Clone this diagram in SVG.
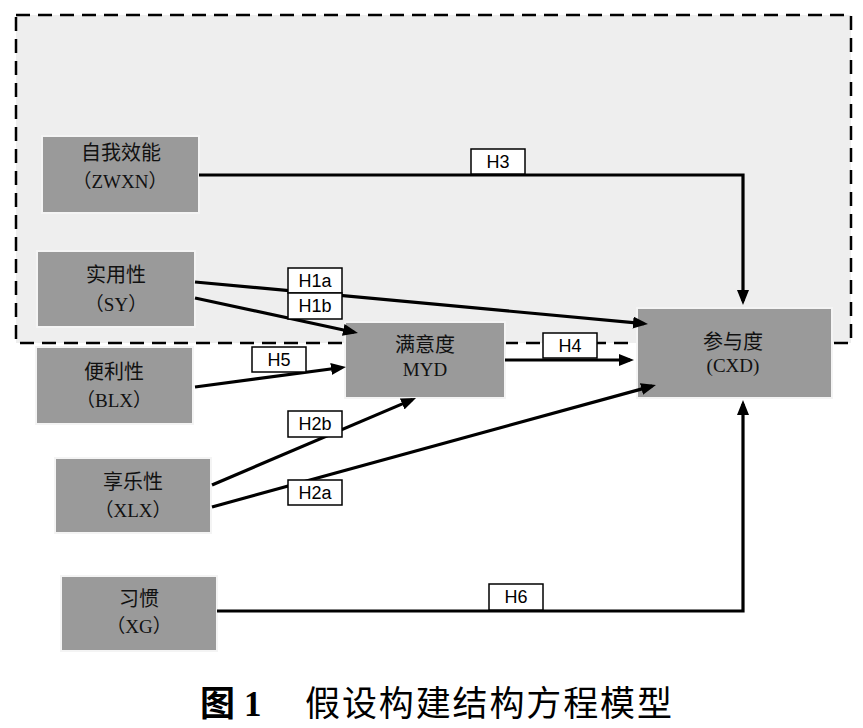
<svg xmlns="http://www.w3.org/2000/svg" width="863" height="728" viewBox="0 0 863 728">
<style>
.node rect{fill:#9a9a9a;stroke:#f4f4f4;stroke-width:2}
.cn{font-family:"Noto Sans CJK SC","Noto Sans",sans-serif;font-size:20px;fill:#111;text-anchor:middle}
.en{font-family:"Liberation Serif","Noto Sans CJK SC",serif;font-size:19px;fill:#111;text-anchor:middle}
.conn line,.conn path{stroke:#000;stroke-width:3.2;fill:none;marker-end:url(#ah)}
.lab rect{fill:#fff;stroke:#000;stroke-width:1.5}
.lab text{font-family:"Liberation Sans Narrow","Liberation Sans",Arial,sans-serif;font-size:18px;fill:#000;text-anchor:middle}
</style>
<defs>
<marker id="ah" markerUnits="userSpaceOnUse" markerWidth="15" markerHeight="12" refX="11" refY="6" orient="auto">
<path d="M0,0 L15,6 L0,12 z" fill="#000"/>
</marker>
</defs>
<rect width="863" height="728" fill="#fff"/>
<rect id="frame" x="16" y="15" width="835" height="328" fill="#eeeeee" stroke="#000" stroke-width="2.5" stroke-dasharray="14,8"/>
<g id="ZWXN" class="node"><rect x="42" y="136" width="157" height="77"/><text class="cn" x="121" y="160">自我效能</text><text class="en" x="120" y="188">（ZWXN）</text></g>
<g id="SY" class="node"><rect x="37" y="251" width="158" height="76"/><text class="cn" x="116" y="282">实用性</text><text class="en" x="116" y="311">（SY）</text></g>
<g id="BLX" class="node"><rect x="36" y="347" width="157" height="77"/><text class="cn" x="114" y="379">便利性</text><text class="en" x="114" y="407">（BLX）</text></g>
<g id="XLX" class="node"><rect x="55" y="458" width="156" height="75"/><text class="cn" x="133" y="489">享乐性</text><text class="en" x="133" y="517">（XLX）</text></g>
<g id="XG" class="node"><rect x="61" y="576" width="156" height="75"/><text class="cn" x="139" y="606">习惯</text><text class="en" x="139" y="633">（XG）</text></g>
<g id="MYD" class="node"><rect x="345" y="322" width="160" height="76"/><text class="cn" x="425" y="352">满意度</text><text class="en" x="425" y="376">MYD</text></g>
<g id="CXD" class="node"><rect x="637" y="308" width="195" height="90"/><text class="cn" x="733" y="349">参与度</text><text class="en" x="733" y="372">(CXD)</text></g>
<g id="connectors" class="conn">
<path d="M199,175 H743 V301"/>
<path d="M217,611 H743 V404"/>
<line x1="195" y1="282" x2="644" y2="323.6"/>
<line x1="195" y1="298" x2="354" y2="332.2"/>
<line x1="195" y1="387" x2="342" y2="367.5"/>
<line x1="505" y1="360" x2="630" y2="360"/>
<line x1="212" y1="485" x2="412.3" y2="399.6"/>
<line x1="212" y1="507" x2="652.1" y2="386.1"/>
</g>
<g id="labels" class="lab">
<g><rect x="471" y="149" width="54" height="25"/><text x="498" y="168">H3</text></g>
<g><rect x="288" y="268" width="54" height="25"/><text x="315" y="287">H1a</text></g>
<g><rect x="288" y="293" width="54" height="26"/><text x="315" y="312">H1b</text></g>
<g><rect x="252" y="347" width="54" height="25"/><text x="279" y="366">H5</text></g>
<g><rect x="543" y="333" width="54" height="25"/><text x="570" y="352">H4</text></g>
<g><rect x="288" y="411" width="54" height="26"/><text x="315" y="430">H2b</text></g>
<g><rect x="288" y="480" width="54" height="25"/><text x="315" y="499">H2a</text></g>
<g><rect x="489" y="584" width="54" height="26"/><text x="516" y="603">H6</text></g>
</g>
<g id="caption">
<text x="200" y="716" font-family="Noto Sans CJK SC,sans-serif" font-size="35" font-weight="bold" fill="#000">图</text>
<text x="244" y="716" font-family="Liberation Serif,serif" font-size="35" font-weight="bold" fill="#000">1</text>
<text x="305" y="716" font-family="Noto Sans CJK SC,sans-serif" font-size="35" fill="#000" textLength="367" lengthAdjust="spacing">假设构建结构方程模型</text>
</g>
</svg>
